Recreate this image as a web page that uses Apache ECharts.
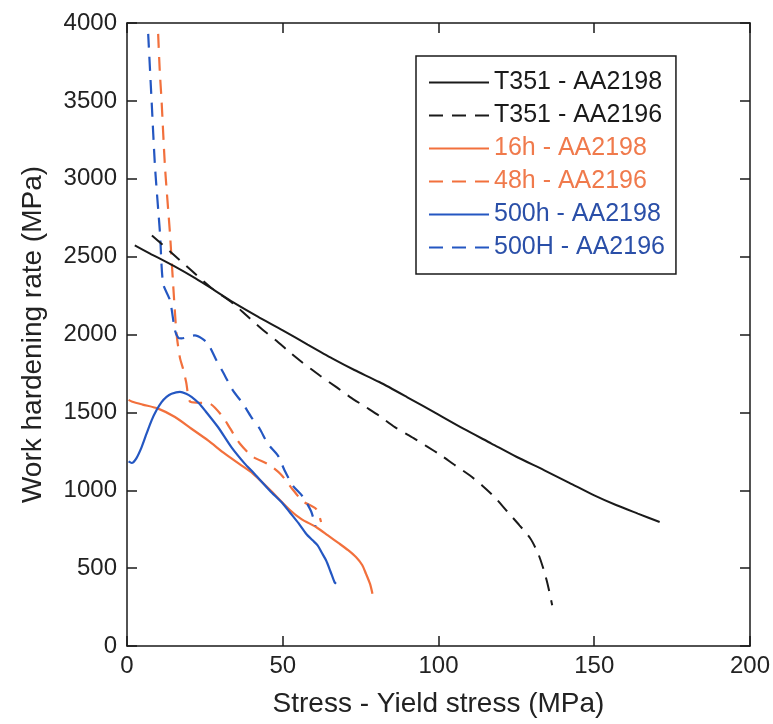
<!DOCTYPE html>
<html>
<head>
<meta charset="utf-8">
<script src="https://cdn.jsdelivr.net/npm/echarts@6/dist/echarts.min.js"></script>
<style>
html,body{margin:0;padding:0;background:#fff;}
#chart{width:773px;height:724px;}
</style>
</head>
<body>
<div id="chart"></div>
<script>
// ---- Data (x: stress - yield stress in MPa, y: work hardening rate in MPa) ----
const seriesNames = ['T351 - AA2198', 'T351 - AA2196', '16h - AA2198', '48h - AA2196', '500h - AA2198', '500H - AA2196'];

const t351_2198 = [[2.5,2572],[7.4,2520],[15,2440],[22,2360],[28,2285],[34,2208],[42,2115],[50,2027],[58,1935],[66,1845],[73,1772],[81,1695],[90,1597],[100,1485],[108,1395],[117,1300],[125,1215],[134,1128],[142,1048],[150,967],[157,905],[164,850],[171,796]];

const t351_2196 = [[8,2636],[14,2530],[20.7,2411],[27,2300],[34,2200],[38.5,2120],[43,2040],[48,1960],[52,1890],[56,1825],[62,1735],[67,1665],[71.5,1600],[77,1530],[81,1478],[86,1405],[92,1335],[96,1285],[101,1222],[105,1165],[110,1096],[114,1031],[118,956],[122,865],[126,775],[129.5,690],[132,593],[133.5,507],[135,400],[136.5,262]];

const h16_2198 = [[0.5,1580],[1.5,1570],[5,1550],[10,1524],[15.4,1470],[20.7,1395],[26,1320],[31.4,1235],[36.7,1160],[40.4,1107],[45.8,1005],[52.2,875],[56,815],[60.7,764],[64.5,710],[68.2,657],[71,615],[73.5,571],[75.5,520],[76.7,465],[78,400],[78.8,336]];

const h48_2196 = [[10,3930],[10.5,3700],[11.1,3500],[12.2,3075],[13.8,2647],[14.8,2326],[15.9,2005],[17,1850],[18,1780],[19,1694],[20.2,1570],[23,1562],[26.6,1556],[30.8,1470],[33,1400],[36.2,1300],[40.4,1215],[45.5,1165],[49.5,1100],[53,1010],[56.4,930],[60.7,880],[62.3,796]];

const h500_2198 = [[0.5,1185],[1.5,1175],[3,1205],[4.7,1277],[6.3,1365],[7.9,1449],[9.5,1515],[11.1,1566],[12.7,1600],[14.3,1620],[17,1632],[19,1620],[20.7,1600],[23,1560],[25,1513],[29.2,1406],[33.5,1277],[37.8,1171],[40.4,1117],[45.8,999],[50,915],[52.2,860],[55,790],[57.5,721],[59.5,680],[61.2,646],[62.5,600],[63.9,550],[65.3,480],[66.6,411],[67.1,400]];

const H500_2196 = [[6.8,3930],[7.9,3500],[9,3075],[10.6,2647],[11.6,2326],[13.8,2219],[15.4,2026],[16.5,1978],[17.5,1975],[21.8,1994],[24,1975],[26,1941],[28.7,1834],[30.8,1759],[34,1641],[37.2,1556],[39.9,1470],[42.6,1395],[45.2,1299],[48.4,1224],[50.6,1127],[53.2,1031],[56.4,960],[59.1,865],[60.5,770]];

const xTicks = [0, 50, 100, 150, 200];
const yTicks = [0, 500, 1000, 1500, 2000, 2500, 3000, 3500, 4000];

// ---- Styling ----
const BLACK = '#1a1a1a';
const ORANGE = '#f2703c';
const BLUE = '#2457c2';
const FONT = '"Liberation Sans", Arial, Helvetica, sans-serif';
const DASH = [14, 9];

const seriesData = [t351_2198, t351_2196, h16_2198, h48_2196, h500_2198, H500_2196];
const seriesColor = [BLACK, BLACK, ORANGE, ORANGE, BLUE, BLUE];
const seriesDash = ['solid', DASH, 'solid', DASH, 'solid', DASH];
const legendTextColor = ['#1a1a1a', '#1a1a1a', '#f07a4c', '#f07a4c', '#2a4fa8', '#2a4fa8'];

const chart = echarts.init(document.getElementById('chart'), null, {renderer: 'canvas'});

const axisCommon = {
  type: 'value',
  splitLine: {show: false},
  axisLine: {show: true, onZero: false, lineStyle: {color: BLACK, width: 1.5}},
  axisTick: {show: true, inside: true, length: 10, lineStyle: {color: BLACK, width: 1.5}}
};

const option = {
  backgroundColor: '#ffffff',
  animation: false,
  grid: {left: 127, right: 21, top: 23, bottom: 78, containLabel: false},
  legend: {
    orient: 'vertical',
    left: 416,
    top: 56,
    padding: [14, 11, 14, 12],
    itemWidth: 60,
    itemHeight: 14,
    itemGap: 8,
    itemTextGap: 8,
    backgroundColor: '#ffffff',
    borderColor: BLACK,
    borderWidth: 1.5,
    itemStyle: {opacity: 0},
    textStyle: {fontFamily: FONT, fontSize: 25},
    data: seriesNames.map((n, i) => ({name: n, textStyle: {color: legendTextColor[i]}}))
  },
  xAxis: [
    Object.assign({}, axisCommon, {
      position: 'bottom', min: xTicks[0], max: xTicks[xTicks.length - 1], interval: 50,
      name: 'Stress - Yield stress (MPa)', nameLocation: 'middle', nameGap: 44,
      nameTextStyle: {fontFamily: FONT, fontSize: 28, color: '#222'},
      axisLabel: {fontFamily: FONT, fontSize: 24, color: '#222', margin: 8, formatter: v => String(v)}
    }),
    Object.assign({}, axisCommon, {
      position: 'top', min: xTicks[0], max: xTicks[xTicks.length - 1], interval: 50,
      axisLabel: {show: false}
    })
  ],
  yAxis: [
    Object.assign({}, axisCommon, {
      position: 'left', min: yTicks[0], max: yTicks[yTicks.length - 1], interval: 500,
      name: 'Work hardening rate (MPa)', nameLocation: 'middle', nameGap: 80,
      nameTextStyle: {fontFamily: FONT, fontSize: 28, color: '#222'},
      axisLabel: {fontFamily: FONT, fontSize: 24, color: '#222', margin: 10, formatter: v => String(v)}
    }),
    Object.assign({}, axisCommon, {
      position: 'right', min: yTicks[0], max: yTicks[yTicks.length - 1], interval: 500,
      axisLabel: {show: false}
    })
  ],
  series: seriesNames.map((n, i) => ({
    name: n,
    type: 'line',
    xAxisIndex: 0,
    yAxisIndex: 0,
    data: seriesData[i],
    showSymbol: false,
    symbol: 'none',
    smooth: 0.25,
    color: seriesColor[i],
    lineStyle: {color: seriesColor[i], width: i < 2 ? 2 : 2.2, type: seriesDash[i]},
    z: i < 2 ? 3 : 2
  }))
};

chart.setOption(option);
</script>
</body>
</html>
